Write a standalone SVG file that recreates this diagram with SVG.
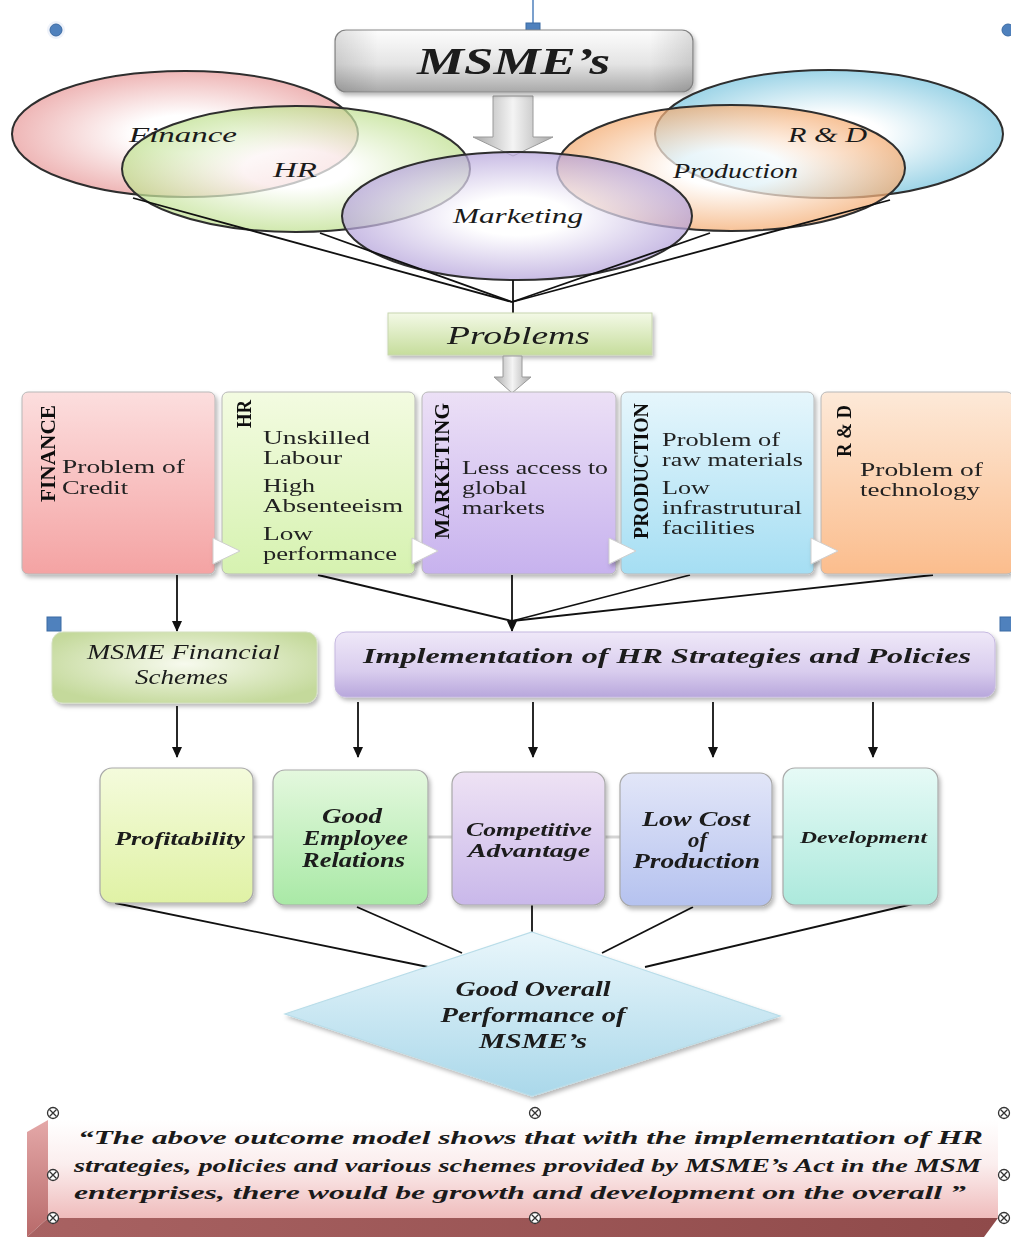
<svg xmlns="http://www.w3.org/2000/svg" width="1011" height="1237" viewBox="0 0 1011 1237">
<defs>
<style>
.lbl{font-family:"Liberation Serif","Times New Roman",serif;fill:#1a1a1a}
.it{font-style:italic}
.b{font-weight:bold}
.pt{font-family:"Liberation Serif","Times New Roman",serif;font-size:19px;fill:#222}
.vt{font-family:"Liberation Serif","Times New Roman",serif;font-size:22px;font-weight:bold;fill:#111}
.ell{stroke:#2e2e2e;stroke-width:2;fill-opacity:0.72}
.pbox{stroke:#b8b8b8;stroke-width:1}
.obox{stroke:#a9a9a9;stroke-width:1.2}
.con{stroke:#111;stroke-width:1.8;fill:none}
.faint{stroke:#d4d4d4;stroke-width:3;fill:none}
.tri{fill:#ffffff;stroke:#cfcfcf;stroke-width:1}
.blue{fill:#4f81bd;stroke:#3b6aa3;stroke-width:1}
</style>
<filter id="sh" x="-10%" y="-10%" width="125%" height="130%">
<feDropShadow dx="2" dy="3" stdDeviation="2" flood-color="#000" flood-opacity="0.28"/>
</filter>
<marker id="ah" markerWidth="12" markerHeight="12" refX="10" refY="5" orient="auto" markerUnits="userSpaceOnUse">
<path d="M0,0 L11,5 L0,10 Z" fill="#111"/>
</marker>
<linearGradient id="gMsme" x1="0" y1="0" x2="0" y2="1">
<stop offset="0" stop-color="#fdfdfd"/><stop offset="0.55" stop-color="#e4e4e4"/><stop offset="1" stop-color="#a9a9a9"/>
</linearGradient>
<linearGradient id="gMsmeH" x1="0" y1="0" x2="1" y2="0">
<stop offset="0" stop-color="#000" stop-opacity="0.12"/><stop offset="0.12" stop-color="#000" stop-opacity="0"/><stop offset="0.88" stop-color="#000" stop-opacity="0"/><stop offset="1" stop-color="#000" stop-opacity="0.12"/>
</linearGradient>
<linearGradient id="gArrow" x1="0" y1="0" x2="1" y2="0">
<stop offset="0" stop-color="#a8a8a8"/><stop offset="0.5" stop-color="#f4f4f4"/><stop offset="1" stop-color="#a8a8a8"/>
</linearGradient>
<radialGradient id="rFin" cx="0.5" cy="0.5" r="0.5"><stop offset="0.3" stop-color="#ffffff"/><stop offset="1" stop-color="#e89a9a"/></radialGradient>
<radialGradient id="rHR" cx="0.5" cy="0.5" r="0.5"><stop offset="0.3" stop-color="#ffffff"/><stop offset="1" stop-color="#bfe08f"/></radialGradient>
<radialGradient id="rMkt" cx="0.5" cy="0.5" r="0.5"><stop offset="0.3" stop-color="#ffffff"/><stop offset="1" stop-color="#b4a2da"/></radialGradient>
<radialGradient id="rPrd" cx="0.5" cy="0.5" r="0.5"><stop offset="0.3" stop-color="#ffffff"/><stop offset="1" stop-color="#f4ab70"/></radialGradient>
<radialGradient id="rRD" cx="0.5" cy="0.5" r="0.5"><stop offset="0.3" stop-color="#ffffff"/><stop offset="1" stop-color="#78c4de"/></radialGradient>
<linearGradient id="gProb" x1="0" y1="0" x2="0" y2="1"><stop offset="0" stop-color="#f3f9e6"/><stop offset="1" stop-color="#c6dd9c"/></linearGradient>
<linearGradient id="pFin" x1="0" y1="0" x2="0" y2="1"><stop offset="0" stop-color="#fcdede"/><stop offset="1" stop-color="#f4a3a3"/></linearGradient>
<linearGradient id="pHR" x1="0" y1="0" x2="0" y2="1"><stop offset="0" stop-color="#f3fbe1"/><stop offset="1" stop-color="#d6f2b0"/></linearGradient>
<linearGradient id="pMkt" x1="0" y1="0" x2="0" y2="1"><stop offset="0" stop-color="#ece0f6"/><stop offset="1" stop-color="#c7b2ee"/></linearGradient>
<linearGradient id="pPrd" x1="0" y1="0" x2="0" y2="1"><stop offset="0" stop-color="#e6f6fc"/><stop offset="1" stop-color="#a5def3"/></linearGradient>
<linearGradient id="pRD" x1="0" y1="0" x2="0" y2="1"><stop offset="0" stop-color="#fde9d8"/><stop offset="1" stop-color="#fbbd8d"/></linearGradient>
<radialGradient id="gFS" cx="0.5" cy="0.45" r="0.6"><stop offset="0" stop-color="#f7faee"/><stop offset="1" stop-color="#c4d99b"/></radialGradient>
<linearGradient id="gImp" x1="0" y1="0" x2="0" y2="1"><stop offset="0" stop-color="#efe8f8"/><stop offset="0.6" stop-color="#d9cdee"/><stop offset="1" stop-color="#b8a7dc"/></linearGradient>
<linearGradient id="oPro" x1="0" y1="0" x2="0" y2="1"><stop offset="0" stop-color="#f4fbdc"/><stop offset="1" stop-color="#e0f2a5"/></linearGradient>
<linearGradient id="oGood" x1="0" y1="0" x2="0" y2="1"><stop offset="0" stop-color="#e4f8de"/><stop offset="1" stop-color="#a9e9a6"/></linearGradient>
<linearGradient id="oComp" x1="0" y1="0" x2="0" y2="1"><stop offset="0" stop-color="#eee2f4"/><stop offset="1" stop-color="#c9b8ea"/></linearGradient>
<linearGradient id="oLow" x1="0" y1="0" x2="0" y2="1"><stop offset="0" stop-color="#e2e6f8"/><stop offset="1" stop-color="#b5c2ef"/></linearGradient>
<linearGradient id="oDev" x1="0" y1="0" x2="0" y2="1"><stop offset="0" stop-color="#e6faf6"/><stop offset="1" stop-color="#ace9dc"/></linearGradient>
<linearGradient id="gDia" x1="0" y1="0" x2="0" y2="1"><stop offset="0" stop-color="#e9f6fb"/><stop offset="1" stop-color="#aad8ea"/></linearGradient>
<linearGradient id="gNote" x1="0" y1="0" x2="0" y2="1"><stop offset="0" stop-color="#ffffff"/><stop offset="0.45" stop-color="#fbeeee"/><stop offset="1" stop-color="#efbcbc"/></linearGradient>
<linearGradient id="gNoteL" x1="0" y1="0" x2="0" y2="1"><stop offset="0" stop-color="#e4a8a8"/><stop offset="1" stop-color="#b86a6a"/></linearGradient>
<linearGradient id="gNoteB" x1="0" y1="0" x2="1" y2="0"><stop offset="0" stop-color="#a86262"/><stop offset="1" stop-color="#8f4a4a"/></linearGradient>
<g id="xh"><circle r="5.5" fill="#fff" stroke="#333" stroke-width="1.3"/><path d="M-3.5,-3.5 L3.5,3.5 M-3.5,3.5 L3.5,-3.5" stroke="#333" stroke-width="1.3"/></g>
</defs>
<rect width="1011" height="1237" fill="#ffffff"/>

<!-- selection handles -->
<g id="handles">
<circle cx="56" cy="30" r="9" fill="#eef2fa"/>
<circle cx="56" cy="30" r="6" class="blue"/>
<circle cx="1008" cy="30" r="6" class="blue"/>
<line x1="533" y1="0" x2="533" y2="23" stroke="#4f81bd" stroke-width="1.5"/>
<rect x="526" y="23" width="14" height="14" class="blue"/>
<rect x="47" y="617" width="14" height="14" class="blue"/>
<rect x="1000" y="617" width="14" height="14" class="blue"/>
</g>

<!-- top block arrow -->
<g id="arrow-top">
<polygon points="493,96 533,96 533,137 553,137 513,156 473,137 493,137" fill="url(#gArrow)" stroke="#9a9a9a" stroke-width="1"/>
</g>

<g id="node-msme" filter="url(#sh)">
<rect x="335" y="30" width="358" height="62" rx="11" fill="url(#gMsme)" stroke="#8a8a8a" stroke-width="1.2"/>
<rect x="335" y="30" width="358" height="62" rx="11" fill="url(#gMsmeH)"/>
<text x="417" y="74" class="lbl it b" font-size="38" textLength="193" lengthAdjust="spacingAndGlyphs">MSME’s</text>
</g>

<!-- ellipses -->
<g id="node-ell-finance">
<ellipse cx="185" cy="134" rx="173" ry="63" class="ell" fill="url(#rFin)"/>
</g>
<g id="node-ell-hr">
<ellipse cx="296" cy="169" rx="174" ry="63" class="ell" fill="url(#rHR)"/>
</g>
<g id="node-ell-rd">
<ellipse cx="829" cy="134" rx="174" ry="64" class="ell" fill="url(#rRD)"/>
</g>
<g id="node-ell-production">
<ellipse cx="731" cy="168" rx="174" ry="63" class="ell" fill="url(#rPrd)"/>
</g>
<g id="node-ell-marketing">
<ellipse cx="517" cy="216" rx="175" ry="64" class="ell" fill="url(#rMkt)"/>
</g>
<g id="ellipse-labels">
<text id="lbl-finance" x="129" y="142" class="lbl it" font-size="22" textLength="108" lengthAdjust="spacingAndGlyphs">Finance</text>
<text id="lbl-hr" x="273" y="177" class="lbl it" font-size="22" textLength="44" lengthAdjust="spacingAndGlyphs">HR</text>
<text id="lbl-rd" x="788" y="142" class="lbl it" font-size="22" textLength="79" lengthAdjust="spacingAndGlyphs">R &amp; D</text>
<text id="lbl-production" x="673" y="178" class="lbl it" font-size="21" textLength="125" lengthAdjust="spacingAndGlyphs">Production</text>
<text id="lbl-marketing" x="453" y="223" class="lbl it" font-size="22" textLength="130" lengthAdjust="spacingAndGlyphs">Marketing</text>
</g>

<!-- connectors -->
<g id="connectors">
<line x1="133" y1="198" x2="512" y2="302" class="con"/>
<line x1="320" y1="233" x2="512" y2="302" class="con"/>
<line x1="710" y1="233" x2="512" y2="302" class="con"/>
<line x1="890" y1="200" x2="512" y2="302" class="con"/>
<line x1="513" y1="280" x2="513" y2="313" class="con"/>

<line x1="177" y1="575" x2="177" y2="631" class="con" marker-end="url(#ah)"/>
<line x1="318" y1="575" x2="512" y2="621" class="con"/>
<line x1="690" y1="575" x2="512" y2="621" class="con"/>
<line x1="933" y1="575" x2="512" y2="621" class="con"/>
<line x1="512" y1="575" x2="512" y2="631" class="con" marker-end="url(#ah)"/>

<line x1="177" y1="706" x2="177" y2="757" class="con" marker-end="url(#ah)"/>
<line x1="358" y1="702" x2="358" y2="757" class="con" marker-end="url(#ah)"/>
<line x1="533" y1="702" x2="533" y2="757" class="con" marker-end="url(#ah)"/>
<line x1="713" y1="702" x2="713" y2="757" class="con" marker-end="url(#ah)"/>
<line x1="873" y1="702" x2="873" y2="757" class="con" marker-end="url(#ah)"/>

<line x1="253" y1="837" x2="273" y2="837" class="faint"/>
<line x1="428" y1="837" x2="452" y2="837" class="faint"/>
<line x1="605" y1="837" x2="620" y2="837" class="faint"/>
<line x1="772" y1="837" x2="783" y2="837" class="faint"/>

<line x1="115" y1="903" x2="428" y2="967" class="con"/>
<line x1="357" y1="907" x2="462" y2="953" class="con"/>
<line x1="532" y1="905" x2="532" y2="932" class="con"/>
<line x1="693" y1="907" x2="602" y2="953" class="con"/>
<line x1="917" y1="903" x2="645" y2="967" class="con"/>
</g>

<g id="node-problems" filter="url(#sh)">
<rect x="388" y="313" width="264" height="42" fill="url(#gProb)" stroke="#c8d6b0" stroke-width="1"/>
<text x="447" y="344" class="lbl it" font-size="25" textLength="143" lengthAdjust="spacingAndGlyphs">Problems</text>
</g>

<g id="arrow-problems">
<polygon points="503,356 522,356 522,377 531,377 512,393 494,377 503,377" fill="url(#gArrow)" stroke="#9a9a9a" stroke-width="1"/>
</g>

<!-- problem boxes -->
<g id="node-p-finance" filter="url(#sh)">
<rect x="22" y="392" width="193" height="182" rx="6" class="pbox" fill="url(#pFin)"/>
<text transform="translate(55,502) rotate(-90)" class="vt" textLength="97" lengthAdjust="spacingAndGlyphs">FINANCE</text>
<text x="62" y="473" class="pt" textLength="123" lengthAdjust="spacingAndGlyphs">Problem of</text>
<text x="62" y="494" class="pt" textLength="66" lengthAdjust="spacingAndGlyphs">Credit</text>
</g>
<g id="node-p-hr" filter="url(#sh)">
<rect x="222" y="392" width="193" height="182" rx="6" class="pbox" fill="url(#pHR)"/>
<text transform="translate(251,428) rotate(-90)" class="vt" textLength="28" lengthAdjust="spacingAndGlyphs">HR</text>
<text x="263" y="444" class="pt" textLength="107" lengthAdjust="spacingAndGlyphs">Unskilled</text>
<text x="263" y="464" class="pt" textLength="79" lengthAdjust="spacingAndGlyphs">Labour</text>
<text x="263" y="492" class="pt" textLength="52" lengthAdjust="spacingAndGlyphs">High</text>
<text x="263" y="512" class="pt" textLength="140" lengthAdjust="spacingAndGlyphs">Absenteeism</text>
<text x="263" y="540" class="pt" textLength="50" lengthAdjust="spacingAndGlyphs">Low</text>
<text x="263" y="560" class="pt" textLength="134" lengthAdjust="spacingAndGlyphs">performance</text>
<polygon points="213,538 240,551 213,564" class="tri"/>
</g>
<g id="node-p-marketing" filter="url(#sh)">
<rect x="422" y="392" width="194" height="182" rx="6" class="pbox" fill="url(#pMkt)"/>
<text transform="translate(449,539) rotate(-90)" class="vt" textLength="136" lengthAdjust="spacingAndGlyphs">MARKETING</text>
<text x="462" y="474" class="pt" textLength="146" lengthAdjust="spacingAndGlyphs">Less access to</text>
<text x="462" y="494" class="pt" textLength="65" lengthAdjust="spacingAndGlyphs">global</text>
<text x="462" y="514" class="pt" textLength="83" lengthAdjust="spacingAndGlyphs">markets</text>
<polygon points="412,538 438,551 412,564" class="tri"/>
</g>
<g id="node-p-production" filter="url(#sh)">
<rect x="621" y="392" width="193" height="182" rx="6" class="pbox" fill="url(#pPrd)"/>
<text transform="translate(648,539) rotate(-90)" class="vt" textLength="136" lengthAdjust="spacingAndGlyphs">PRODUCTION</text>
<text x="662" y="446" class="pt" textLength="118" lengthAdjust="spacingAndGlyphs">Problem of</text>
<text x="662" y="466" class="pt" textLength="141" lengthAdjust="spacingAndGlyphs">raw materials</text>
<text x="662" y="494" class="pt" textLength="48" lengthAdjust="spacingAndGlyphs">Low</text>
<text x="662" y="514" class="pt" textLength="140" lengthAdjust="spacingAndGlyphs">infrastrutural</text>
<text x="662" y="534" class="pt" textLength="93" lengthAdjust="spacingAndGlyphs">facilities</text>
<polygon points="609,538 636,551 609,564" class="tri"/>
</g>
<g id="node-p-rd" filter="url(#sh)">
<rect x="821" y="392" width="192" height="182" rx="6" class="pbox" fill="url(#pRD)"/>
<text transform="translate(851,457) rotate(-90)" class="vt" textLength="52" lengthAdjust="spacingAndGlyphs">R &amp; D</text>
<text x="860" y="476" class="pt" textLength="123" lengthAdjust="spacingAndGlyphs">Problem of</text>
<text x="860" y="496" class="pt" textLength="120" lengthAdjust="spacingAndGlyphs">technology</text>
<polygon points="811,538 838,551 811,564" class="tri"/>
</g>

<!-- middle boxes -->
<g id="node-fin-schemes" filter="url(#sh)">
<rect x="52" y="632" width="265" height="71" rx="11" fill="url(#gFS)" stroke="#d3e0bf" stroke-width="1"/>
<text x="87" y="659" class="lbl it" font-size="21" textLength="193" lengthAdjust="spacingAndGlyphs">MSME Financial</text>
<text x="135" y="684" class="lbl it" font-size="21" textLength="93" lengthAdjust="spacingAndGlyphs">Schemes</text>
</g>
<g id="node-implementation" filter="url(#sh)">
<rect x="335" y="632" width="660" height="65" rx="11" fill="url(#gImp)" stroke="#c5b8e0" stroke-width="1"/>
<text x="363" y="663" class="lbl it b" font-size="22" textLength="608" lengthAdjust="spacingAndGlyphs">Implementation of HR Strategies and Policies</text>
</g>

<!-- outcome boxes -->
<g id="node-profitability" filter="url(#sh)">
<rect x="100" y="768" width="153" height="135" rx="12" class="obox" fill="url(#oPro)"/>
<text x="115" y="845" class="lbl it b" font-size="19" textLength="130" lengthAdjust="spacingAndGlyphs">Profitability</text>
</g>
<g id="node-employee" filter="url(#sh)">
<rect x="273" y="770" width="155" height="135" rx="12" class="obox" fill="url(#oGood)"/>
<text x="322" y="823" class="lbl it b" font-size="20" textLength="60" lengthAdjust="spacingAndGlyphs">Good</text>
<text x="303" y="845" class="lbl it b" font-size="20" textLength="105" lengthAdjust="spacingAndGlyphs">Employee</text>
<text x="302" y="867" class="lbl it b" font-size="20" textLength="103" lengthAdjust="spacingAndGlyphs">Relations</text>
</g>
<g id="node-competitive" filter="url(#sh)">
<rect x="452" y="772" width="153" height="133" rx="12" class="obox" fill="url(#oComp)"/>
<text x="466" y="836" class="lbl it" font-size="19" font-weight="600" textLength="126" lengthAdjust="spacingAndGlyphs">Competitive</text>
<text x="468" y="857" class="lbl it" font-size="19" font-weight="600" textLength="122" lengthAdjust="spacingAndGlyphs">Advantage</text>
</g>
<g id="node-lowcost" filter="url(#sh)">
<rect x="620" y="773" width="152" height="133" rx="12" class="obox" fill="url(#oLow)"/>
<text x="642" y="826" class="lbl it b" font-size="20" textLength="108" lengthAdjust="spacingAndGlyphs">Low Cost</text>
<text x="688" y="847" class="lbl it b" font-size="20" textLength="19" lengthAdjust="spacingAndGlyphs">of</text>
<text x="633" y="868" class="lbl it b" font-size="20" textLength="127" lengthAdjust="spacingAndGlyphs">Production</text>
</g>
<g id="node-development" filter="url(#sh)">
<rect x="783" y="768" width="155" height="137" rx="12" class="obox" fill="url(#oDev)"/>
<text x="800" y="843" class="lbl it b" font-size="16" textLength="127" lengthAdjust="spacingAndGlyphs">Development</text>
</g>

<!-- diamond -->
<g id="node-overall" filter="url(#sh)">
<polygon points="532,932 780,1016 532,1096 285,1014" fill="url(#gDia)" stroke="#b9dde9" stroke-width="1.2"/>
<text x="533" y="996" text-anchor="middle" class="lbl it b" font-size="20" textLength="155" lengthAdjust="spacingAndGlyphs">Good Overall</text>
<text x="533" y="1022" text-anchor="middle" class="lbl it b" font-size="20" textLength="185" lengthAdjust="spacingAndGlyphs">Performance of</text>
<text x="533" y="1048" text-anchor="middle" class="lbl it b" font-size="20" textLength="108" lengthAdjust="spacingAndGlyphs">MSME’s</text>
</g>

<!-- note slab -->
<g id="node-note">
<polygon points="27,1132 48,1120 48,1218 27,1237" fill="url(#gNoteL)"/>
<rect x="48" y="1120" width="950" height="98" fill="url(#gNote)"/>
<polygon points="48,1218 998,1218 984,1237 27,1237" fill="url(#gNoteB)"/>
<text x="78" y="1144" class="lbl it b" font-size="19" fill="#222" textLength="905" lengthAdjust="spacingAndGlyphs">“The above outcome model shows that with the implementation of HR</text>
<text x="74" y="1172" class="lbl it b" font-size="19" fill="#222" textLength="907" lengthAdjust="spacingAndGlyphs">strategies, policies and various schemes provided by MSME’s Act in the MSM</text>
<text x="74" y="1199" class="lbl it b" font-size="19" fill="#222" textLength="892" lengthAdjust="spacingAndGlyphs">enterprises, there would be growth and development on the overall ”</text>
<use href="#xh" x="53" y="1113"/>
<use href="#xh" x="53" y="1175"/>
<use href="#xh" x="53" y="1218"/>
<use href="#xh" x="535" y="1113"/>
<use href="#xh" x="535" y="1218"/>
<use href="#xh" x="1004" y="1113"/>
<use href="#xh" x="1004" y="1175"/>
<use href="#xh" x="1004" y="1218"/>
</g>
</svg>
